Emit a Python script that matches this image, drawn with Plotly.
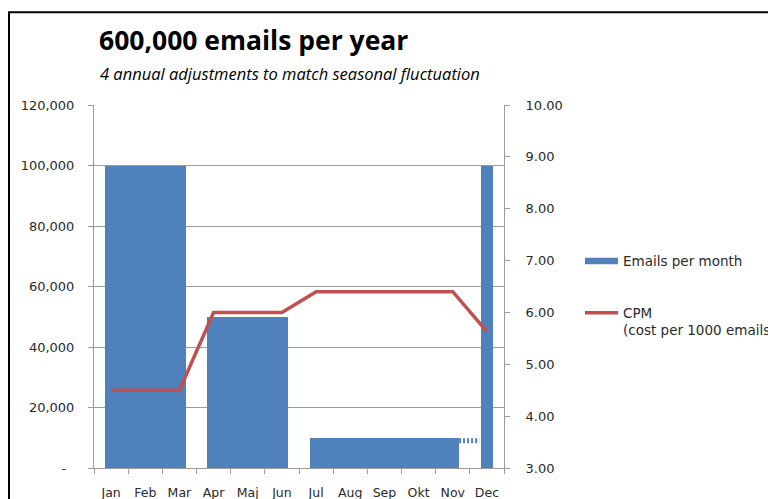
import plotly.graph_objects as go

# ---- data ----
months = ["Jan", "Feb", "Mar", "Apr", "Maj", "Jun", "Jul", "Aug", "Sep", "Okt", "Nov", "Dec"]
emails_per_month = [100000, 100000, 100000, 50000, 50000, 50000,
                    10000, 10000, 10000, 10000, 10000, 100000]
cpm = [4.50, 4.50, 4.50, 6.00, 6.00, 6.00, 6.40, 6.40, 6.40, 6.40, 6.40, 5.63]
left_ticks = [0, 20000, 40000, 60000, 80000, 100000, 120000]
left_labels = ["-\u00a0\u00a0", "20,000", "40,000", "60,000", "80,000", "100,000", "120,000"]
connector_level = 9000

BLUE = "#4f81bd"
RED = "#c0504d"
GRID = "#9c9c9c"
TXT = "#2a2a2a"
TICKFONT = "DejaVu Sans"
TITLEFONT = "Open Sans"

# group consecutive months with equal volume into one adjustment period
runs = []
start = 0
for i in range(1, len(months) + 1):
    if i == len(months) or emails_per_month[i] != emails_per_month[start]:
        runs.append((start, i - 1, emails_per_month[start]))
        start = i

GAP = 0.63
bar_x = [(a + b) / 2 for a, b, v in runs]
bar_w = [(b - a + 1) - GAP for a, b, v in runs]
bar_y = [v for a, b, v in runs]

W, H = 768, 491
L, R, T, B = 86, 272, 97, 30.5
PW, PH = W - L - R, H - T - B


def px(x):
    return (x - L) / PW


def py(y):
    return (H - B - y) / PH


fig = go.Figure()
fig.add_trace(go.Bar(x=bar_x, y=bar_y, width=bar_w, marker=dict(color=BLUE, line=dict(width=0)),
                     showlegend=False, hoverinfo="skip"))

# dashed connector between the Jul-Nov period and December
cx0 = bar_x[2] + bar_w[2] / 2
cx1 = bar_x[3] - bar_w[3] / 2
fig.add_trace(go.Scatter(x=[cx0, cx1 - 0.04], y=[connector_level, connector_level], mode="lines",
                         line=dict(color=BLUE, width=5, dash="2px,2px"), showlegend=False,
                         hoverinfo="skip"))

fig.add_trace(go.Scatter(x=list(range(len(months))), y=cpm, yaxis="y2", mode="lines",
                         line=dict(color=RED, width=3.5), showlegend=False))

# legend entries
fig.add_trace(go.Scatter(x=[None], y=[None], mode="lines", name="Emails per month",
                         line=dict(color=BLUE, width=6.5), legendgroup="a"))
fig.add_trace(go.Scatter(x=[None], y=[None], mode="lines", yaxis="y2",
                         name="CPM<br>(cost per 1000 emails)",
                         line=dict(color=RED, width=3.5), legendgroup="b"))

fig.update_layout(
    width=W, height=H,
    margin=dict(l=L, r=R, t=T, b=B, autoexpand=False),
    paper_bgcolor="white", plot_bgcolor="white",
    font=dict(family=TICKFONT, size=13, color=TXT),
    bargap=0,
    title=dict(text="<b>600,000 emails per year</b>", x=91 / W, xanchor="left", xref="container",
               y=1 - 33 / H, yanchor="middle", yref="container",
               font=dict(family=TITLEFONT, size=26.5, color="black")),
    annotations=[dict(text="<i>4 annual adjustments to match seasonal fluctuation</i>",
                      xref="paper", yref="paper", x=px(90), y=py(65),
                      xanchor="left", yanchor="middle", showarrow=False,
                      font=dict(family=TITLEFONT, size=16.5, color="black"))],
    xaxis=dict(range=[-0.5, 11.5], tickmode="array", tickvals=list(range(len(months))),
               ticktext=months, ticks="", showgrid=False, showline=True, linecolor=GRID,
               linewidth=1, zeroline=False, ticklabelstandoff=13,
               tickfont=dict(family=TICKFONT, size=12.5, color=TXT),
               minor=dict(ticks="outside", ticklen=5, tickcolor=GRID, tick0=-0.5, dtick=1,
                          showgrid=False)),
    yaxis=dict(range=[0, 120000], tickmode="array", tickvals=left_ticks, ticktext=left_labels,
               showgrid=True, gridcolor=GRID, gridwidth=1, zeroline=False,
               showline=True, linecolor=GRID, ticks="outside", ticklen=5, tickcolor=GRID,
               ticklabelstandoff=11, tickfont=dict(family=TICKFONT, size=13, color=TXT)),
    yaxis2=dict(range=[3, 10], dtick=1, tick0=3, tickformat=".2f", overlaying="y", side="right",
                showgrid=False, zeroline=False, showline=True, linecolor=GRID,
                ticks="outside", ticklen=5, tickcolor=GRID, ticklabelstandoff=13,
                tickfont=dict(family=TICKFONT, size=13, color=TXT)),
    legend=dict(x=px(572), y=py(238), xanchor="left", yanchor="top",
                traceorder="grouped", tracegroupgap=31, itemwidth=33, valign="top",
                font=dict(family=TICKFONT, size=13.5, color=TXT), bgcolor="rgba(0,0,0,0)"),
    shapes=[dict(type="rect", xref="paper", yref="paper",
                 x0=px(1), x1=px(W + 40),
                 y0=py(H + 40), y1=py(4),
                 line=dict(color="black", width=2), fillcolor="rgba(0,0,0,0)", layer="above")],
)

fig.write_html("out.html")
